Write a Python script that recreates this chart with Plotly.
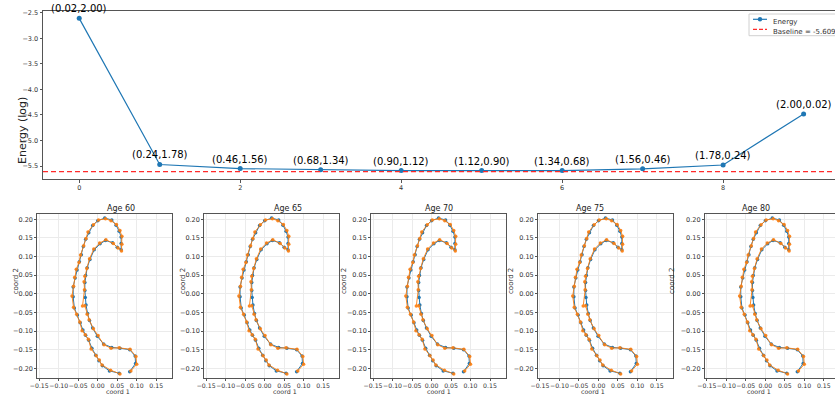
import plotly.graph_objects as go

# ---- data ----
steps = [0, 1, 2, 3, 4, 5, 6, 7, 8, 9]
energy = [-2.61, -5.47, -5.55, -5.575, -5.59, -5.59, -5.59, -5.555, -5.48, -4.48]
lam1 = [0.02, 0.24, 0.46, 0.68, 0.90, 1.12, 1.34, 1.56, 1.78, 2.00]
lam2 = [2.00, 1.78, 1.56, 1.34, 1.12, 0.90, 0.68, 0.46, 0.24, 0.02]
baseline = -5.609
ages = ["Age 60", "Age 65", "Age 70", "Age 75", "Age 80"]

blue_x = [0.055, 0.030, 0.012, 0.003, -0.005, -0.015, -0.023, -0.031, -0.038, -0.045,
          -0.052, -0.060, -0.063, -0.063, -0.058, -0.053, -0.047, -0.042, -0.037, -0.031,
          -0.023, -0.013, 0.000, 0.018, 0.036, 0.047, 0.055, 0.060, 0.060, 0.060,
          0.050, 0.038, 0.020, 0.006, -0.009, -0.020, -0.027, -0.031, -0.033, -0.033,
          -0.032, -0.030, -0.026, -0.021, -0.013, -0.001, 0.015, 0.036, 0.057, 0.082,
          0.096, 0.097, 0.082]
blue_y = [-0.213, -0.207, -0.193, -0.180, -0.165, -0.146, -0.125, -0.111, -0.097, -0.078,
          -0.057, -0.038, -0.008, 0.018, 0.042, 0.064, 0.086, 0.105, 0.127, 0.146,
          0.164, 0.183, 0.196, 0.203, 0.198, 0.184, 0.168, 0.152, 0.135, 0.118,
          0.125, 0.137, 0.143, 0.134, 0.118, 0.092, 0.070, 0.049, 0.030, 0.009,
          -0.010, -0.030, -0.053, -0.072, -0.092, -0.114, -0.135, -0.144, -0.146, -0.150,
          -0.167, -0.187, -0.209]
orange_x = [0.057, 0.033, 0.011, 0.004, -0.004, -0.017, -0.024, -0.032, -0.040, -0.046,
            -0.054, -0.062, -0.066, -0.062, -0.059, -0.055, -0.048, -0.044, -0.036, -0.030,
            -0.025, -0.011, 0.002, 0.020, 0.034, 0.048, 0.057, 0.062, 0.062, 0.061,
            0.052, 0.040, 0.021, 0.005, -0.010, -0.021, -0.028, -0.033, -0.035, -0.034,
            -0.039, -0.033, -0.027, -0.022, -0.011, 0.001, 0.016, 0.034, 0.055, 0.083,
            0.098, 0.100, 0.085]
orange_y = [-0.215, -0.205, -0.191, -0.178, -0.166, -0.148, -0.122, -0.110, -0.099, -0.076,
            -0.055, -0.036, -0.006, 0.020, 0.044, 0.066, 0.084, 0.104, 0.129, 0.148,
            0.166, 0.185, 0.198, 0.201, 0.196, 0.186, 0.170, 0.154, 0.133, 0.115,
            0.123, 0.135, 0.145, 0.136, 0.120, 0.094, 0.068, 0.047, 0.032, 0.011,
            -0.033, -0.032, -0.055, -0.070, -0.094, -0.112, -0.137, -0.146, -0.145, -0.149,
            -0.168, -0.189, -0.207]

# ---- figure ----
W, H = 835, 395
FONT = "DejaVu Sans"
BLUE = "#1f77b4"
ORANGE = "#ff7f0e"
RED = "#ff2a2a"
SPINE = "#555555"

fig = go.Figure()

def px(v):
    return v / W

def py(v):
    return 1 - v / H

# top energy plot
fig.add_trace(go.Scatter(
    x=steps, y=energy, mode="lines+markers", name="Energy",
    line=dict(color=BLUE, width=1.2), marker=dict(color=BLUE, size=5),
    xaxis="x", yaxis="y"))
fig.add_trace(go.Scatter(
    x=[-0.45, 9.39], y=[baseline, baseline], mode="lines",
    name="Baseline = %.3f" % baseline,
    line=dict(color=RED, width=1.3, dash="5px,3px"),
    xaxis="x", yaxis="y"))

annotations = []
for s, e, a, b in zip(steps, energy, lam1, lam2):
    annotations.append(dict(
        x=s, y=e, xref="x", yref="y", text="(%.2f,%.2f)" % (a, b),
        showarrow=False, yanchor="bottom", yshift=2,
        font=dict(family=FONT, size=10, color="black")))

annotations.append(dict(
    x=px(14), y=py(95), xref="paper", yref="paper", text="Energy (log)",
    textangle=-90, showarrow=False, font=dict(family=FONT, size=11, color="#222")))

# hand-drawn legend (matplotlib style)
shapes = [
    dict(type="rect", xref="paper", yref="paper", x0=px(749), x1=px(845),
         y0=py(35.7), y1=py(14), line=dict(color="#d0d0d0", width=1),
         fillcolor="rgba(255,255,255,0.85)", layer="above"),
    dict(type="line", xref="paper", yref="paper", x0=px(753), x1=px(767),
         y0=py(19.3), y1=py(19.3), line=dict(color=BLUE, width=1.2), layer="above"),
    dict(type="circle", xref="paper", yref="paper", x0=px(757.8), x1=px(762.2),
         y0=py(21.5), y1=py(17.1), line=dict(color=BLUE, width=0),
         fillcolor=BLUE, layer="above"),
    dict(type="line", xref="paper", yref="paper", x0=px(753), x1=px(767),
         y0=py(29.3), y1=py(29.3), line=dict(color=RED, width=1.3, dash="4px,2px"),
         layer="above"),
]
annotations.append(dict(x=px(771), y=py(19.3), xref="paper", yref="paper",
                        text="Energy", showarrow=False, xanchor="left", yshift=3,
                        font=dict(family=FONT, size=7, color="#333")))
annotations.append(dict(x=px(771), y=py(29.3), xref="paper", yref="paper",
                        text="Baseline = %.3f" % baseline, showarrow=False, yshift=3,
                        xanchor="left", font=dict(family=FONT, size=7, color="#333")))

common = dict(zeroline=False, showline=True, mirror=True, linecolor=SPINE, linewidth=1,
              ticks="outside", tickcolor=SPINE,
              automargin=False, tickangle=0)

layout = dict(
    width=W, height=H,
    margin=dict(l=0, r=0, t=0, b=0, autoexpand=False),
    paper_bgcolor="white", plot_bgcolor="white",
    font=dict(family=FONT, size=7, color="#333"),
    showlegend=False,
    hovermode=False,
    xaxis=dict(domain=[px(43), 1.0], range=[-0.45, 9.39], tickvals=[0, 2, 4, 6, 8],
               showgrid=False, ticklen=2.5, anchor="y", tickfont=dict(size=6.5), **common),
    yaxis=dict(domain=[py(179), py(10.7)], range=[-5.754, -2.46],
               tickvals=[-5.5, -5.0, -4.5, -4.0, -3.5, -3.0, -2.5],
               tickformat=".1f", showgrid=False, ticklen=2.5, anchor="x",
               tickfont=dict(size=6.5), **common),
)

for i, age in enumerate(ages):
    k = i + 2
    x0 = 97.7 + 166.9 * i
    left = x0 - 60.4
    right = min(x0 + 74.6, W)
    xr = [-0.155, (right - x0) / 390.0]
    xa = "xaxis%d" % k
    ya = "yaxis%d" % k
    layout[xa] = dict(domain=[px(left), px(right)], range=xr,
                      tickvals=[-0.15, -0.10, -0.05, 0.0, 0.05, 0.10, 0.15],
                      tickformat=".2f",
                      showgrid=True, gridcolor="#ebebeb", gridwidth=0.8,
                      ticklen=1.5, anchor="y%d" % k, tickfont=dict(size=6.2), **common)
    layout[ya] = dict(domain=[py(378), py(214)], range=[-0.226, 0.214],
                      tickvals=[-0.20, -0.15, -0.10, -0.05, 0.0, 0.05, 0.10, 0.15, 0.20],
                      tickformat=".2f",
                      showgrid=True, gridcolor="#ebebeb", gridwidth=0.8,
                      ticklen=2, anchor="x%d" % k, tickfont=dict(size=6.5), **common)
    fig.add_trace(go.Scatter(
        x=blue_x, y=blue_y, mode="lines+markers", showlegend=False,
        line=dict(color=BLUE, width=1), marker=dict(color=BLUE, size=3.5),
        xaxis="x%d" % k, yaxis="y%d" % k))
    fig.add_trace(go.Scatter(
        x=orange_x, y=orange_y, mode="lines+markers", showlegend=False,
        line=dict(color=ORANGE, width=1), marker=dict(color=ORANGE, size=3.5),
        opacity=0.9,
        xaxis="x%d" % k, yaxis="y%d" % k))
    cx = (left + x0 + 74.6) / 2
    annotations.append(dict(x=px(cx), y=py(208), xref="paper", yref="paper",
                            text=age, showarrow=False,
                            font=dict(family=FONT, size=8, color="#222")))
    annotations.append(dict(x=px(cx), y=0, xref="paper", yref="paper",
                            text="coord 1", showarrow=False, yanchor="bottom",
                            borderpad=0, yshift=-1,
                            font=dict(family=FONT, size=6.3, color="#333")))
    annotations.append(dict(x=px(left - 27), y=py(296), xref="paper", yref="paper",
                            text="coord 2", showarrow=False, textangle=-90,
                            font=dict(family=FONT, size=7, color="#333")))

layout["annotations"] = annotations
layout["shapes"] = shapes
fig.update_layout(**layout)
fig.write_html("out.html", config={"displayModeBar": False},
               post_script="document.body.style.margin='0';document.body.style.overflow='hidden';")
